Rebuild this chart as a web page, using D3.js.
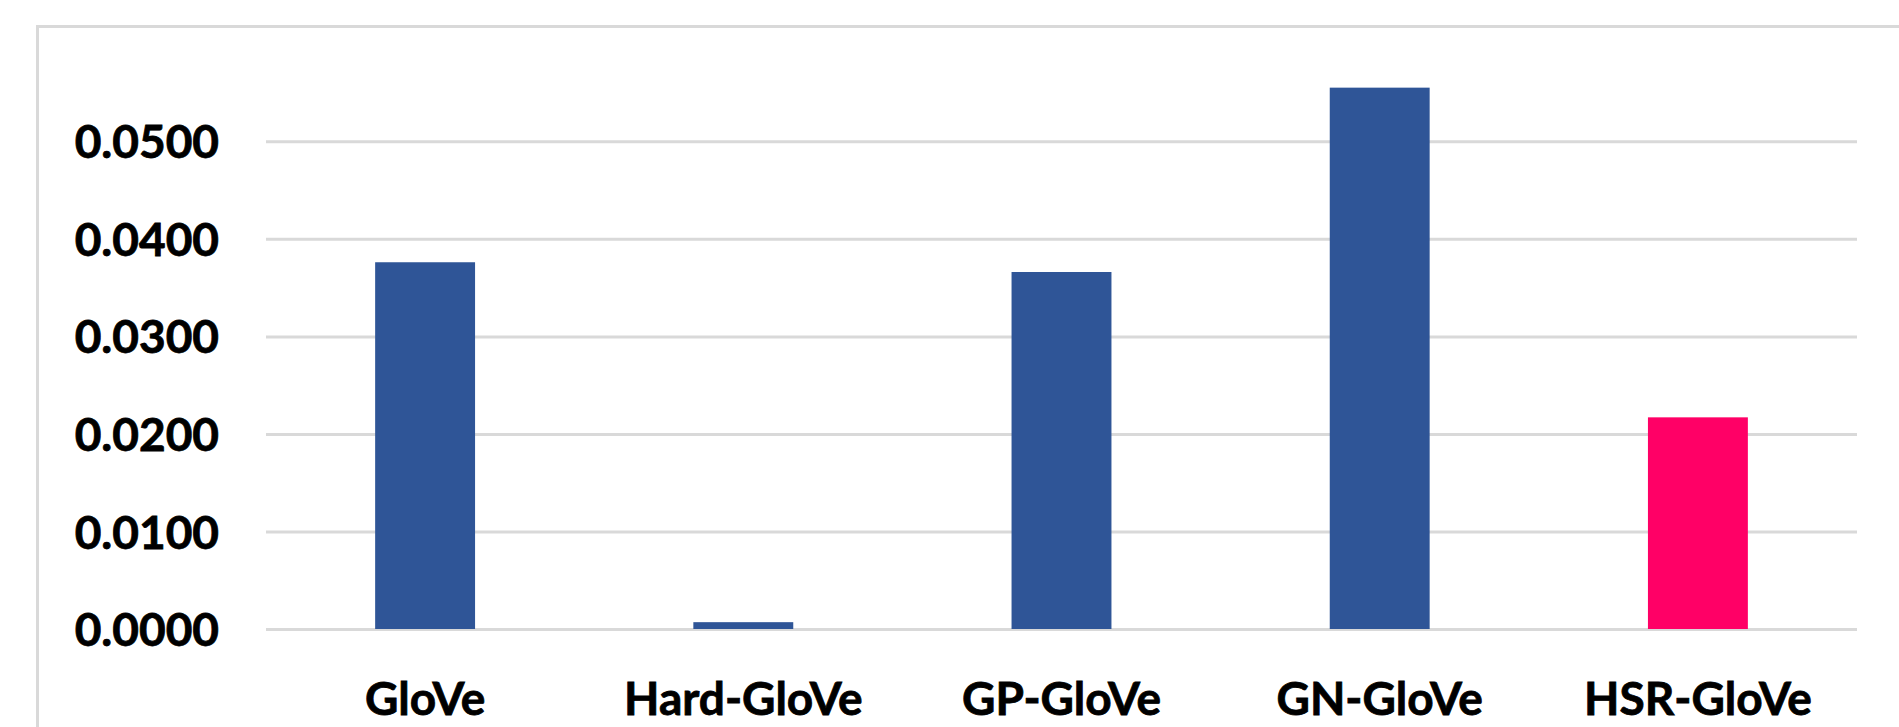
<!DOCTYPE html>
<html>
<head>
<meta charset="utf-8">
<script src="https://cdn.jsdelivr.net/npm/d3@7"></script>
<style>
  html, body { margin: 0; padding: 0; background: #ffffff; }
  svg { display: block; }
  .lbl { font-family: Lato, "Open Sans", sans-serif; font-weight: 700; font-size: 46px; fill: #000000; stroke: #000000; stroke-width: 0.8px; }
</style>
</head>
<body>
<svg id="chart" width="1899" height="727"></svg>
<script>
// Model names on the category axis
const models = ["GloVe", "Hard-GloVe", "GP-GloVe", "GN-GloVe", "HSR-GloVe"];
// Measured score for each model
const scores = [0.0376, 0.0007, 0.0366, 0.0555, 0.0217];
// Value-axis ticks
const yTicks = [0, 0.01, 0.02, 0.03, 0.04, 0.05];

const W = 1899, H = 727;
const plot = { left: 266, right: 1857, top: 141.3, bottom: 629 };
const barColor = "#2F5597";
const highlightColor = "#FF0066";

const svg = d3.select("#chart");

// Outer chart frame (runs off the right and bottom edges)
svg.append("rect")
  .attr("x", 37.5).attr("y", 26.5)
  .attr("width", W).attr("height", H)
  .attr("fill", "none")
  .attr("stroke", "#d9d9d9")
  .attr("stroke-width", 3);

const x = d3.scaleBand()
  .domain(models)
  .range([plot.left, plot.right])
  .paddingInner(0.686)
  .paddingOuter(0.343);

const y = d3.scaleLinear()
  .domain([0, 0.05])
  .range([plot.bottom, plot.top]);

// Gridlines + value labels
const yAxis = svg.append("g")
  .attr("transform", `translate(${plot.left},0)`)
  .call(d3.axisLeft(y)
    .tickValues(yTicks)
    .tickFormat(d3.format(".4f"))
    .tickSize(-(plot.right - plot.left))
    .tickPadding(47));
yAxis.select(".domain").remove();
yAxis.selectAll(".tick line")
  .attr("stroke", "#d9d9d9")
  .attr("stroke-width", 3);
yAxis.selectAll(".tick text")
  .attr("class", "lbl")
  .attr("dy", "0.36em");
yAxis.attr("font-size", null).attr("font-family", null);

// Bars
svg.append("g")
  .selectAll("rect")
  .data(models)
  .join("rect")
  .attr("x", d => x(d))
  .attr("width", x.bandwidth())
  .attr("y", (d, i) => y(scores[i]))
  .attr("height", (d, i) => y(0) - y(scores[i]))
  .attr("fill", d => d === "HSR-GloVe" ? highlightColor : barColor);

// Category labels
const xAxis = svg.append("g")
  .attr("transform", `translate(0,${plot.bottom})`)
  .call(d3.axisBottom(x).tickSize(0).tickPadding(0));
xAxis.select(".domain").remove();
xAxis.attr("font-size", null).attr("font-family", null);
xAxis.selectAll(".tick text")
  .attr("class", "lbl")
  .attr("y", 85.5)
  .attr("dy", 0);
</script>
</body>
</html>
